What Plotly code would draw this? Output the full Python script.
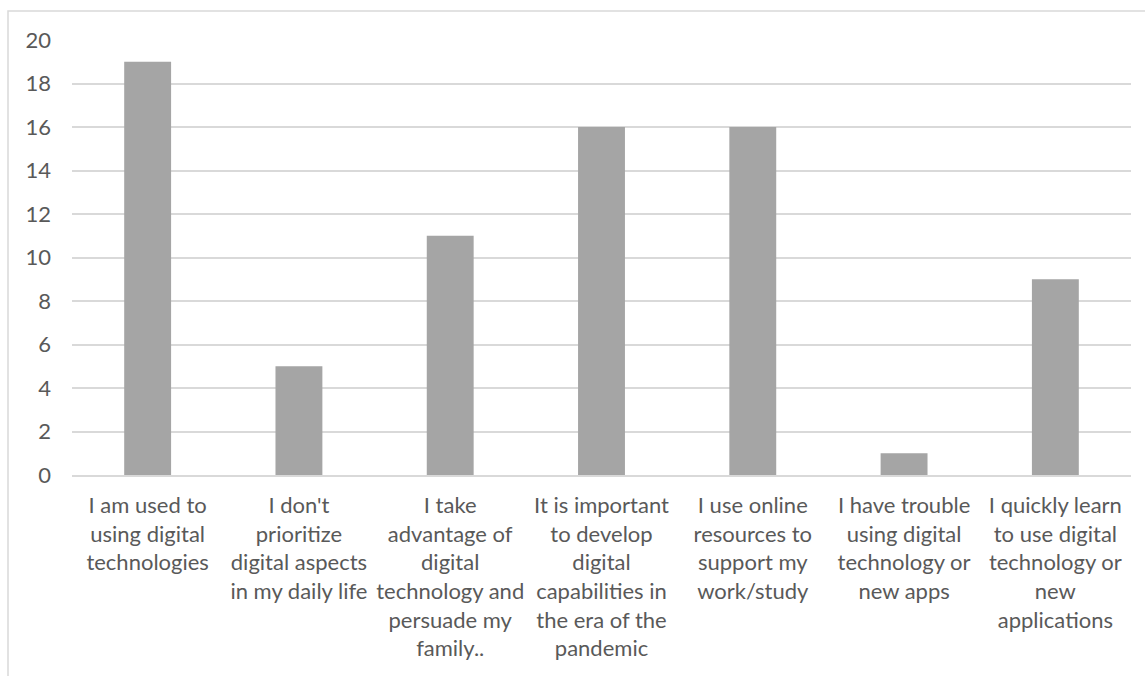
import plotly.graph_objects as go

categories = [
    "I am used to<br>using digital<br>technologies",
    "I don't<br>prioritize<br>digital aspects<br>in my daily life",
    "I take<br>advantage of<br>digital<br>technology and<br>persuade my<br>family..",
    "It is important<br>to develop<br>digital<br>capabilities in<br>the era of the<br>pandemic",
    "I use online<br>resources to<br>support my<br>work/study",
    "I have trouble<br>using digital<br>technology or<br>new apps",
    "I quickly learn<br>to use digital<br>technology or<br>new<br>applications",
]
counts = [19, 5, 11, 16, 16, 1, 9]
y_ticks = list(range(0, 21, 2))

W, H = 1145, 676
ML, MR, MT, MB = 72, 14, 40, 201
plot_w = W - ML - MR
plot_h = H - MT - MB

fig = go.Figure(
    go.Bar(
        x=categories,
        y=counts,
        marker=dict(color="#A5A5A5", line=dict(width=0)),
        hoverinfo="skip",
    )
)

# outer chart frame (only the top and left edges fall inside the page)
fig.add_shape(
    type="rect",
    xref="paper", yref="paper",
    x0=(8 - ML) / plot_w, x1=1.2,
    y0=-1, y1=1 + (MT - 11) / plot_h,
    line=dict(color="#D9D9D9", width=1.5),
    fillcolor="rgba(0,0,0,0)",
    layer="below",
)

fig.update_layout(
    width=W, height=H,
    margin=dict(l=ML, r=MR, t=MT, b=MB),
    paper_bgcolor="white",
    plot_bgcolor="white",
    bargap=0.69,
    showlegend=False,
    font=dict(family="Lato, 'Open Sans', sans-serif", size=22, color="#595959"),
    xaxis=dict(
        showgrid=False,
        showline=True,
        linecolor="#D9D9D9",
        linewidth=1.5,
        ticks="",
        tickangle=0,
        ticklabelstandoff=10,
        tickfont=dict(size=22, color="#595959"),
    ),
    yaxis=dict(
        range=[0, 20],
        tickvals=y_ticks,
        showgrid=True,
        gridcolor="#D9D9D9",
        gridwidth=1.5,
        zeroline=False,
        showline=False,
        ticks="",
        ticklabelstandoff=20,
        tickfont=dict(size=22, color="#595959"),
    ),
)

fig.write_html("out.html")
